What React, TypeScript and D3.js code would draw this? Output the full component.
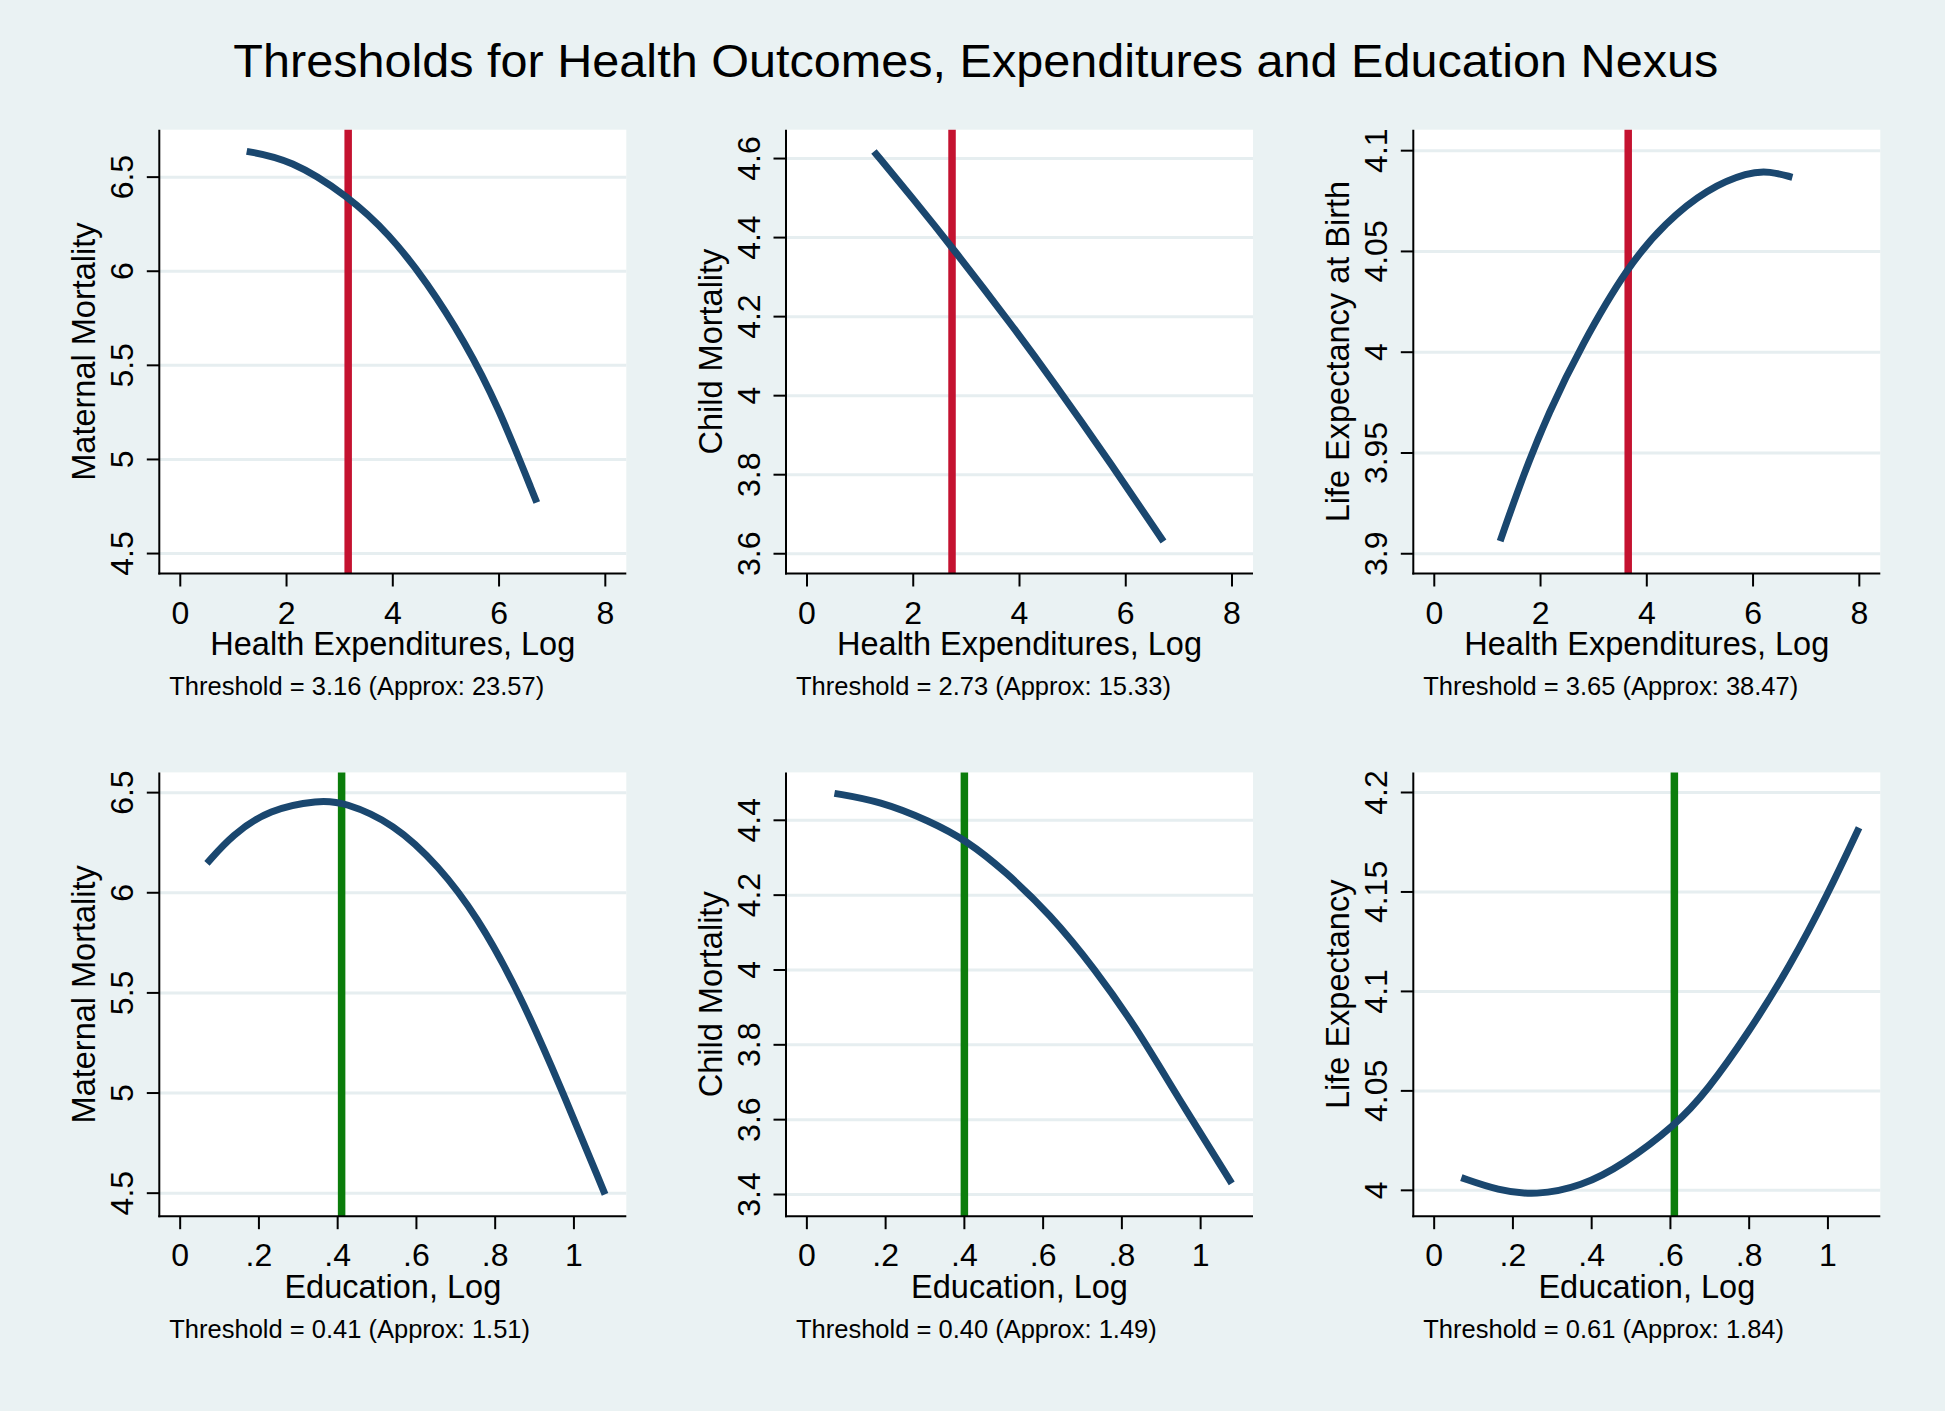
import React from "react";
import * as d3 from "d3";

const W = 1945;
const H = 1411;
const FONT = "'Liberation Sans', Arial, Helvetica, sans-serif";

const TITLE = "Thresholds for Health Outcomes, Expenditures and Education Nexus";

// ---- x tick values / labels
const healthTicks = [0, 2, 4, 6, 8];
const healthTickLabels = ["0", "2", "4", "6", "8"];
const eduTicks = [0, 0.2, 0.4, 0.6, 0.8, 1];
const eduTickLabels = ["0", ".2", ".4", ".6", ".8", "1"];

// ---- Panel 1: Maternal Mortality vs Health Expenditures
const mmHealthX = [1.25, 2.07, 3.16, 3.94, 4.64, 5.35, 5.97, 6.71];
const mmHealthY = [6.637, 6.595, 6.4, 6.195, 5.943, 5.628, 5.292, 4.771];
const mmHealthTicks = [4.5, 5, 5.5, 6, 6.5];
const mmHealthTickLabels = ["4.5", "5", "5.5", "6", "6.5"];

// ---- Panel 2: Child Mortality vs Health Expenditures
const cmHealthX = [1.26, 2.0, 2.74, 3.87, 4.65, 5.66, 6.71];
const cmHealthY = [4.618, 4.498, 4.374, 4.176, 4.033, 3.84, 3.631];
const cmHealthTicks = [3.6, 3.8, 4, 4.2, 4.4, 4.6];
const cmHealthTickLabels = ["3.6", "3.8", "4", "4.2", "4.4", "4.6"];

// ---- Panel 3: Life Expectancy at Birth vs Health Expenditures
const leHealthX = [1.24, 1.67, 2.15, 2.77, 3.64, 4.35, 5.13, 5.92, 6.31, 6.74];
const leHealthY = [3.9063, 3.9387, 3.97, 4.0034, 4.0427, 4.0643, 4.081, 4.0894, 4.0898, 4.0868];
const leHealthTicks = [3.9, 3.95, 4, 4.05, 4.1];
const leHealthTickLabels = ["3.9", "3.95", "4", "4.05", "4.1"];

// ---- Panel 4: Maternal Mortality vs Education
const mmEduX = [0.068, 0.132, 0.226, 0.353, 0.416, 0.542, 0.658, 0.753, 0.858, 0.963, 1.079];
const mmEduY = [6.147, 6.289, 6.417, 6.4625, 6.453, 6.348, 6.131, 5.885, 5.515, 5.046, 4.494];
const mmEduTicks = [4.5, 5, 5.5, 6, 6.5];
const mmEduTickLabels = ["4.5", "5", "5.5", "6", "6.5"];

// ---- Panel 5: Child Mortality vs Education
const cmEduX = [0.07, 0.186, 0.312, 0.407, 0.501, 0.617, 0.732, 0.837, 0.942, 1.079];
const cmEduY = [4.472, 4.451, 4.398, 4.345, 4.266, 4.15, 4.002, 3.845, 3.66, 3.43];
const cmEduTicks = [3.4, 3.6, 3.8, 4, 4.2, 4.4];
const cmEduTickLabels = ["3.4", "3.6", "3.8", "4", "4.2", "4.4"];

// ---- Panel 6: Life Expectancy vs Education
const leEduX = [0.069, 0.162, 0.258, 0.374, 0.48, 0.613, 0.692, 0.799, 0.905, 1.0, 1.079];
const leEduY = [4.0064, 4.0, 3.9974, 4.002, 4.0129, 4.0328, 4.0497, 4.0794, 4.1132, 4.149, 4.1823];
const leEduTicks = [4, 4.05, 4.1, 4.15, 4.2];
const leEduTickLabels = ["4", "4.05", "4.1", "4.15", "4.2"];

// ---- thresholds
const thresholds = [3.16, 2.73, 3.65, 0.41, 0.4, 0.61];
const approxValues = [23.57, 15.33, 38.47, 1.51, 1.49, 1.84];

// ---- axis titles
const yTitles = [
  "Maternal Mortality",
  "Child Mortality",
  "Life Expectancy at Birth",
  "Maternal Mortality",
  "Child Mortality",
  "Life Expectancy",
];
const xTitles = [
  "Health Expenditures, Log",
  "Health Expenditures, Log",
  "Health Expenditures, Log",
  "Education, Log",
  "Education, Log",
  "Education, Log",
];

// axis ranges (including plot-region margins)
const healthDomain: [number, number] = [-0.395, 8.395];
const eduDomain: [number, number] = [-0.053, 1.133];
const yDomains: [number, number][] = [
  [4.394, 6.752],
  [3.55, 4.673],
  [3.8902, 4.1104],
  [4.385, 6.601],
  [3.342, 4.528],
  [3.987, 4.2101],
];

const NAVY = "#1A476F";
const RED = "#C41230";
const GREEN = "#0B7D0B";
const BG = "#EAF2F3";
const GRID = "#E6EEF0";

const panelData = [
  { xs: mmHealthX, ys: mmHealthY, yt: mmHealthTicks, ytl: mmHealthTickLabels, xt: healthTicks, xtl: healthTickLabels, xd: healthDomain, col: RED },
  { xs: cmHealthX, ys: cmHealthY, yt: cmHealthTicks, ytl: cmHealthTickLabels, xt: healthTicks, xtl: healthTickLabels, xd: healthDomain, col: RED },
  { xs: leHealthX, ys: leHealthY, yt: leHealthTicks, ytl: leHealthTickLabels, xt: healthTicks, xtl: healthTickLabels, xd: healthDomain, col: RED },
  { xs: mmEduX, ys: mmEduY, yt: mmEduTicks, ytl: mmEduTickLabels, xt: eduTicks, xtl: eduTickLabels, xd: eduDomain, col: GREEN },
  { xs: cmEduX, ys: cmEduY, yt: cmEduTicks, ytl: cmEduTickLabels, xt: eduTicks, xtl: eduTickLabels, xd: eduDomain, col: GREEN },
  { xs: leEduX, ys: leEduY, yt: leEduTicks, ytl: leEduTickLabels, xt: eduTicks, xtl: eduTickLabels, xd: eduDomain, col: GREEN },
];

const colLefts = [159.3, 786, 1413.3];
const rowTops = [129.7, 772.4];
const PW = 467;
const PH = 443.8;
const TICK_FS = 32;

function Panel({ i }: { i: number }) {
  const p = panelData[i];
  const left = colLefts[i % 3];
  const top = rowTops[Math.floor(i / 3)];
  const right = left + PW;
  const bottom = top + PH;
  const x = d3.scaleLinear().domain(p.xd).range([left, right]);
  const y = d3.scaleLinear().domain(yDomains[i]).range([bottom, top]);
  const pts: [number, number][] = p.xs.map((v, k) => [v, p.ys[k]]);
  const line = d3
    .line<[number, number]>()
    .x((d) => x(d[0]))
    .y((d) => y(d[1]))
    .curve(d3.curveBasis);
  const th = thresholds[i];
  const note = `Threshold = ${th.toFixed(2)} (Approx: ${approxValues[i].toFixed(2)})`;
  const midY = (top + bottom) / 2;
  return (
    <g>
      <rect x={left} y={top} width={PW} height={PH} fill="#ffffff" />
      {p.yt.map((t, k) => (
        <line key={"g" + k} x1={left} x2={right} y1={y(t)} y2={y(t)} stroke={GRID} strokeWidth={3} />
      ))}
      <line x1={x(th)} x2={x(th)} y1={top} y2={bottom} stroke={p.col} strokeWidth={7.5} />
      <path d={line(pts) || ""} fill="none" stroke={NAVY} strokeWidth={7} strokeLinecap="butt" strokeLinejoin="round" />
      {/* axes */}
      <line x1={left} x2={left} y1={top} y2={bottom + 1} stroke="#000" strokeWidth={2} />
      <line x1={left - 1} x2={right} y1={bottom} y2={bottom} stroke="#000" strokeWidth={2} />
      {p.yt.map((t, k) => (
        <g key={"yt" + k}>
          <line x1={left - 12.5} x2={left} y1={y(t)} y2={y(t)} stroke="#000" strokeWidth={2} />
          <text
            transform={`translate(${left - 26},${y(t)}) rotate(-90)`}
            textAnchor="middle"
            fontSize={TICK_FS}
            fontFamily={FONT}
            fill="#000"
          >
            {p.ytl[k]}
          </text>
        </g>
      ))}
      {p.xt.map((t, k) => (
        <g key={"xt" + k}>
          <line x1={x(t)} x2={x(t)} y1={bottom} y2={bottom + 13} stroke="#000" strokeWidth={2} />
          <text x={x(t)} y={bottom + 50} textAnchor="middle" fontSize={TICK_FS} fontFamily={FONT} fill="#000">
            {p.xtl[k]}
          </text>
        </g>
      ))}
      <text
        transform={`translate(${left - 64},${midY}) rotate(-90)`}
        textAnchor="middle"
        fontSize={32.5}
        fontFamily={FONT}
        fill="#000"
      >
        {yTitles[i]}
      </text>
      <text x={(left + right) / 2} y={bottom + 81.5} textAnchor="middle" fontSize={32.5} fontFamily={FONT} fill="#000">
        {xTitles[i]}
      </text>
      <text x={left + 10} y={bottom + 121.5} fontSize={25.5} fontFamily={FONT} fill="#000">
        {note}
      </text>
    </g>
  );
}

export default function App() {
  return (
    <svg
      width={W}
      height={H}
      viewBox={`0 0 ${W} ${H}`}
      style={{ position: "absolute", left: 0, top: 0, display: "block" }}
    >
      <rect x={0} y={0} width={W} height={H} fill={BG} />
      <text
        x={975.8}
        y={76.7}
        textAnchor="middle"
        fontSize={46}
        textLength={1485}
        lengthAdjust="spacingAndGlyphs"
        fontFamily={FONT}
        fill="#000"
      >
        {TITLE}
      </text>
      {panelData.map((_, i) => (
        <Panel key={i} i={i} />
      ))}
    </svg>
  );
}
